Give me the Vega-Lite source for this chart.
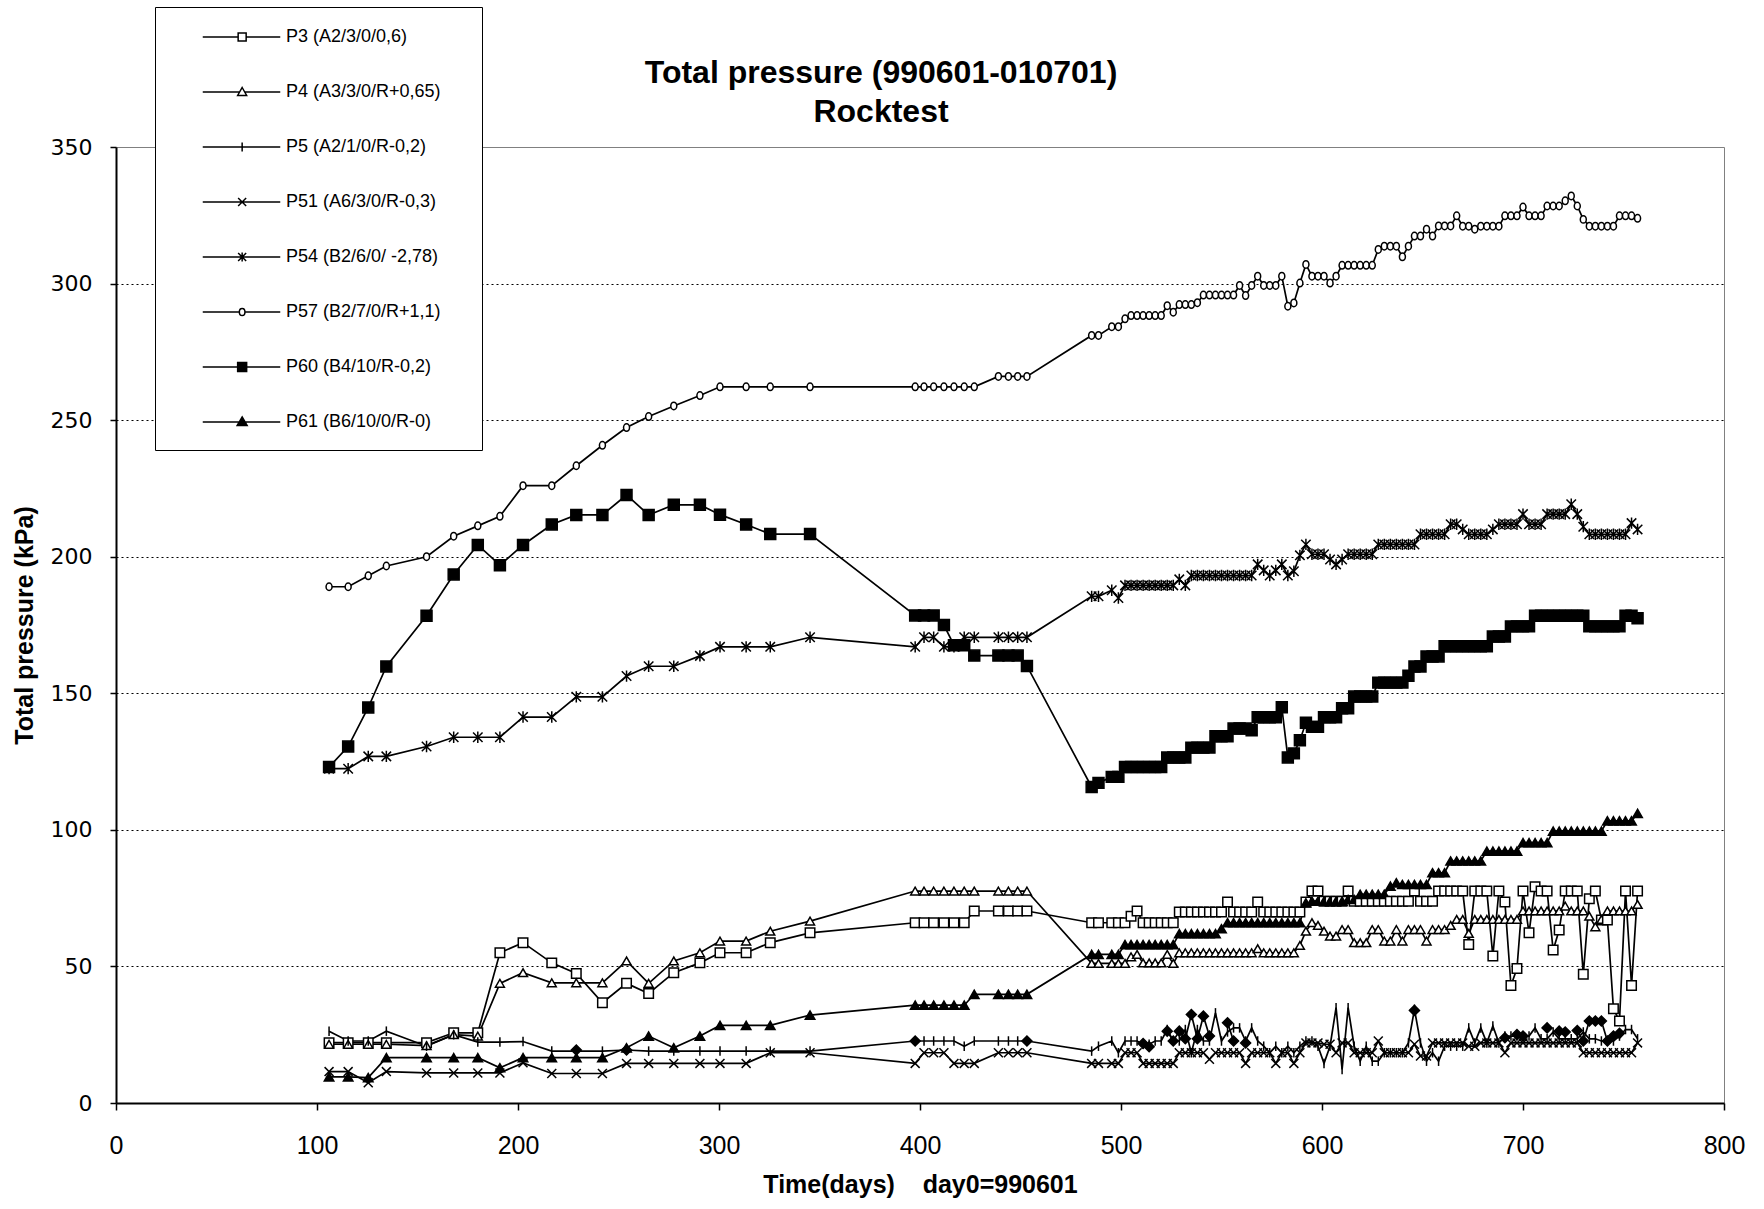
{
  "$schema": "https://vega.github.io/schema/vega-lite/v6.json",
  "width": 1608,
  "height": 956,
  "autosize": {"type": "none"},
  "padding": {"left": 116, "top": 147, "right": 40, "bottom": 106},
  "background": "white",
  "config": {"font": "Liberation Sans", "view": {"stroke": "#808080", "strokeWidth": 1}},
  "title": {
    "text": ["Total pressure (990601-010701)", "Rocktest"],
    "font": "Liberation Sans", "fontSize": 32, "fontWeight": "bold", "color": "black",
    "anchor": "middle", "frame": "group", "dx": -39, "lineHeight": 39,
    "baseline": "bottom", "offset": -154
  },
  "data": {"values": [
    {"d":106,"P3":22.1,"P4":21.5,"P5":26.3,"P51":11.5,"P54":122.4,"P57":189,"P60":123,"P61":9.6},
    {"d":115.5,"P3":22.1,"P4":21.5,"P5":22.7,"P51":11.5,"P54":122.4,"P57":189,"P60":130.5,"P61":9.6},
    {"d":125.5,"P3":22.1,"P4":21.5,"P5":22.7,"P51":7.4,"P54":126.9,"P57":193,"P60":144.8,"P61":9.3},
    {"d":134.5,"P3":22.1,"P4":21.5,"P5":26.3,"P51":11.5,"P54":126.9,"P57":196.6,"P60":159.8,"P61":16.6},
    {"d":154.5,"P3":22.1,"P4":21,"P5":20.8,"P51":11,"P54":130.5,"P57":200,"P60":178.4,"P61":16.6},
    {"d":168,"P3":25.7,"P4":25,"P5":25,"P51":11,"P54":133.9,"P57":207.5,"P60":193.5,"P61":16.6},
    {"d":180,"P3":25.7,"P4":24.5,"P5":22.3,"P51":11,"P54":133.9,"P57":211.3,"P60":204.3,"P61":16.6},
    {"d":191,"P3":55,"P4":43.8,"P5":22.3,"P51":11,"P54":133.9,"P57":214.8,"P60":196.9,"P61":12.9},
    {"d":202.5,"P3":58.7,"P4":47.7,"P5":22.5,"P51":14.7,"P54":141.3,"P57":226,"P60":204.3,"P61":16.6},
    {"d":216.8,"P3":51.3,"P4":44,"P5":19,"P51":10.8,"P54":141.3,"P57":226,"P60":211.8,"P61":16.6},
    {"d":229,"P3":47.4,"P4":44,"P5":19,"P51":10.8,"P54":148.7,"P57":233.3,"P60":215.3,"P61":16.6,"P5d":19.4},
    {"d":242,"P3":36.7,"P4":44,"P5":19,"P51":10.8,"P54":148.7,"P57":240.8,"P60":215.3,"P61":16.6},
    {"d":254,"P3":43.8,"P4":52,"P5":19.4,"P51":14.5,"P54":156.3,"P57":247.3,"P60":222.6,"P61":20.2,"P5d":19.4},
    {"d":265,"P3":40.1,"P4":43.8,"P5":19,"P51":14.5,"P54":159.9,"P57":251.3,"P60":215.3,"P61":24.5},
    {"d":277.5,"P3":47.7,"P4":52,"P5":19,"P51":14.5,"P54":159.9,"P57":255.2,"P60":219,"P61":20.2},
    {"d":290.5,"P3":51.3,"P4":55,"P5":19,"P51":14.5,"P54":163.7,"P57":259,"P60":219,"P61":24.5},
    {"d":300.5,"P3":55,"P4":59.3,"P5":19,"P51":14.5,"P54":167,"P57":262.2,"P60":215.4,"P61":28.4},
    {"d":313.5,"P3":55,"P4":59.3,"P5":19,"P51":14.5,"P54":167,"P57":262.2,"P60":211.8,"P61":28.4},
    {"d":325.5,"P3":58.7,"P4":62.9,"P5":19,"P51":18.4,"P54":167,"P57":262.2,"P60":208.3,"P61":28.4},
    {"d":345.3,"P3":62.3,"P4":66.6,"P5":19,"P51":18.4,"P54":170.5,"P57":262.2,"P60":208.3,"P61":32.2},
    {"d":397.6,"P3":66,"P4":77.6,"P5":22.7,"P51":14.5,"P54":167,"P57":262.2,"P60":178.5,"P61":35.8,"P5d":22.7},
    {"d":402,"P3":66,"P4":77.6,"P5":22.7,"P51":18.4,"P54":170.5,"P57":262.2,"P60":178.5,"P61":35.8},
    {"d":406.8,"P3":66,"P4":77.6,"P5":22.7,"P51":18.4,"P54":170.5,"P57":262.2,"P60":178.5,"P61":35.8},
    {"d":411.9,"P3":66,"P4":77.6,"P5":22.7,"P51":18.4,"P54":167,"P57":262.2,"P60":175,"P61":35.8},
    {"d":416.9,"P3":66,"P4":77.6,"P5":22.7,"P51":14.5,"P54":167,"P57":262.2,"P60":167.6,"P61":35.8},
    {"d":422,"P3":66,"P4":77.6,"P5":20.8,"P51":14.5,"P54":170.5,"P57":262.2,"P60":167.6,"P61":35.8},
    {"d":427,"P3":70.3,"P4":77.6,"P5":22.7,"P51":14.5,"P54":170.5,"P57":262.2,"P60":163.8,"P61":39.8},
    {"d":439,"P3":70.3,"P4":77.6,"P5":22.7,"P51":18.4,"P54":170.5,"P57":266,"P60":163.8,"P61":39.8},
    {"d":444,"P3":70.3,"P4":77.6,"P5":22.7,"P51":18.4,"P54":170.5,"P57":266,"P60":163.8,"P61":39.8},
    {"d":448.6,"P3":70.3,"P4":77.6,"P5":22.7,"P51":18.4,"P54":170.5,"P57":266,"P60":163.8,"P61":39.8},
    {"d":453.2,"P3":70.3,"P4":77.6,"P5":22.7,"P51":18.4,"P54":170.5,"P57":266,"P60":160,"P61":39.8,"P5d":22.7},
    {"d":485.4,"P3":66,"P4":51.1,"P5":19,"P51":14.5,"P54":185.5,"P57":281,"P60":115.7,"P61":54.4},
    {"d":488.8,"P3":66,"P4":51.1,"P5":20.8,"P51":14.5,"P54":185.5,"P57":281,"P60":117.2,"P61":54.4},
    {"d":495.4,"P3":66,"P4":51.1,"P5":22.7,"P51":14.5,"P54":187.7,"P57":284.2,"P60":119.4,"P61":54.4},
    {"d":498.7,"P3":66,"P4":51.1,"P5":18.4,"P51":14.5,"P54":184.9,"P57":284.2,"P60":119.4,"P61":54.4},
    {"d":502,"P3":66,"P4":51.1,"P5":22.7,"P51":18.4,"P54":189.5,"P57":287.1,"P60":123,"P61":58},
    {"d":505,"P3":68.4,"P4":53.5,"P5":22.7,"P51":18.4,"P54":189.5,"P57":288.3,"P60":123,"P61":58},
    {"d":508,"P3":70.3,"P4":54.4,"P5":22.7,"P51":18.4,"P54":189.5,"P57":288.3,"P60":123,"P61":58},
    {"d":511,"P3":66,"P4":51.3,"P5":21.5,"P51":14.5,"P54":189.5,"P57":288.3,"P60":123,"P61":58,"P5d":21.8},
    {"d":514,"P3":66,"P4":51.3,"P5":21.5,"P51":14.5,"P54":189.5,"P57":288.3,"P60":123,"P61":58,"P5d":20.6},
    {"d":517,"P3":66,"P4":51.3,"P5":22.7,"P51":14.5,"P54":189.5,"P57":288.3,"P60":123,"P61":58},
    {"d":520,"P3":66,"P4":51.3,"P5":22.7,"P51":14.5,"P54":189.5,"P57":288.3,"P60":123,"P61":58},
    {"d":523,"P3":66,"P4":54.4,"P5":26.9,"P51":14.5,"P54":189.5,"P57":291.9,"P60":126.5,"P61":58,"P5d":26.3},
    {"d":526,"P3":66,"P4":51.1,"P5":22.7,"P51":14.5,"P54":189.5,"P57":289.5,"P60":126.5,"P61":58,"P5d":22.7},
    {"d":529,"P3":69.9,"P4":55,"P5":22.7,"P51":18.4,"P54":191.7,"P57":292.3,"P60":126.5,"P61":62,"P5d":26.3},
    {"d":532,"P3":69.9,"P4":55,"P5":26.9,"P51":18.4,"P54":189.5,"P57":292.3,"P60":126.5,"P61":62,"P5d":23.5},
    {"d":535,"P3":69.9,"P4":55,"P5":18.4,"P51":18.4,"P54":193.1,"P57":292.3,"P60":130.1,"P61":62,"P5d":32.4},
    {"d":538,"P3":69.9,"P4":55,"P5":26.9,"P51":18.4,"P54":193.1,"P57":293,"P60":130.1,"P61":62,"P5d":23.5},
    {"d":541,"P3":69.9,"P4":55,"P5":22.7,"P51":18.4,"P54":193.1,"P57":295.8,"P60":130.1,"P61":62,"P5d":31.8},
    {"d":544,"P3":69.9,"P4":55,"P5":22.7,"P51":16,"P54":193.1,"P57":295.8,"P60":130.1,"P61":62,"P5d":24.5},
    {"d":547,"P3":69.9,"P4":55,"P5":33,"P51":18.4,"P54":193.1,"P57":295.8,"P60":134.3,"P61":62},
    {"d":550,"P3":69.9,"P4":55,"P5":22.7,"P51":18.4,"P54":193.1,"P57":295.8,"P60":134.3,"P61":63.8},
    {"d":553,"P3":73.6,"P4":55,"P5":26,"P51":18.4,"P54":193.1,"P57":295.8,"P60":134.3,"P61":66,"P5d":29.4},
    {"d":556,"P3":69.9,"P4":55,"P5":27.5,"P51":18.4,"P54":193.1,"P57":295.8,"P60":137.1,"P61":66,"P5d":22.7},
    {"d":559,"P3":69.9,"P4":55,"P5":27.5,"P51":18.4,"P54":193.1,"P57":299.3,"P60":137.1,"P61":66},
    {"d":562,"P3":69.9,"P4":55,"P5":22.7,"P51":14.5,"P54":193.1,"P57":295.6,"P60":137.1,"P61":66,"P5d":22},
    {"d":565,"P3":69.9,"P4":55,"P5":27.5,"P51":18.4,"P54":193.1,"P57":299.3,"P60":136.5,"P61":66},
    {"d":568,"P3":73.6,"P4":56.5,"P5":22.7,"P51":18.4,"P54":197.2,"P57":302.7,"P60":141.2,"P61":66},
    {"d":571,"P3":69.9,"P4":55,"P5":20.8,"P51":18.4,"P54":195,"P57":299.3,"P60":141.2,"P61":66},
    {"d":574,"P3":69.9,"P4":55,"P5":18.4,"P51":18.4,"P54":193.1,"P57":299.3,"P60":141.2,"P61":66},
    {"d":577,"P3":69.9,"P4":55,"P5":20.8,"P51":14.5,"P54":195,"P57":299.3,"P60":141.2,"P61":66},
    {"d":580,"P3":69.9,"P4":55,"P5":18.4,"P51":18.4,"P54":197.2,"P57":302.7,"P60":144.9,"P61":66},
    {"d":583,"P3":69.9,"P4":55,"P5":20.8,"P51":18.4,"P54":193.1,"P57":291.7,"P60":126.5,"P61":66},
    {"d":586,"P3":69.9,"P4":55,"P5":18.4,"P51":14.5,"P54":194.7,"P57":292.9,"P60":128,"P61":66},
    {"d":589,"P3":69.9,"P4":57.7,"P5":20.8,"P51":18.4,"P54":200.5,"P57":300.2,"P60":132.8,"P61":66},
    {"d":592,"P3":73.6,"P4":62.9,"P5":22.7,"P51":22,"P54":204.5,"P57":307,"P60":139.2,"P61":73.3},
    {"d":595,"P3":77.6,"P4":66,"P5":22.7,"P51":22,"P54":200.9,"P57":302.7,"P60":137.7,"P61":73.9},
    {"d":598,"P3":77.6,"P4":65,"P5":20.8,"P51":22,"P54":200.9,"P57":302.7,"P60":137.7,"P61":73.9},
    {"d":601,"P3":73.9,"P4":62.9,"P5":14.5,"P51":21.5,"P54":200.9,"P57":302.7,"P60":141.2,"P61":73.9},
    {"d":604,"P3":73.9,"P4":61.1,"P5":20.8,"P51":21.5,"P54":199,"P57":300.2,"P60":141.2,"P61":73.9},
    {"d":607,"P3":73.9,"P4":61.1,"P5":34.9,"P51":18.4,"P54":197.2,"P57":302.7,"P60":141.2,"P61":73.9},
    {"d":610,"P3":73.9,"P4":63.5,"P5":12.3,"P51":22,"P54":199,"P57":306.7,"P60":144.5,"P61":73.9},
    {"d":613,"P3":77.6,"P4":63.5,"P5":34.9,"P51":22,"P54":200.9,"P57":306.7,"P60":144.5,"P61":74.5},
    {"d":616,"P3":73.9,"P4":58.7,"P5":20.8,"P51":18.4,"P54":200.9,"P57":306.7,"P60":148.8,"P61":74.5},
    {"d":619,"P3":73.9,"P4":58.7,"P5":15.3,"P51":18.4,"P54":200.9,"P57":306.7,"P60":148.8,"P61":76.4},
    {"d":622,"P3":73.9,"P4":58.7,"P5":20.8,"P51":18.4,"P54":200.9,"P57":306.7,"P60":148.8,"P61":76.4},
    {"d":625,"P3":73.9,"P4":63.5,"P5":15.3,"P51":18.4,"P54":200.9,"P57":306.7,"P60":148.8,"P61":76.4},
    {"d":628,"P3":73.9,"P4":63.5,"P5":15.3,"P51":22.7,"P54":204.5,"P57":312.5,"P60":153.9,"P61":76.4},
    {"d":631,"P3":73.9,"P4":59.3,"P5":18.4,"P51":18.4,"P54":204.5,"P57":313.7,"P60":153.9,"P61":76.4},
    {"d":634,"P3":73.9,"P4":59.3,"P5":18.4,"P51":18.4,"P54":204.5,"P57":313.7,"P60":153.9,"P61":79.4},
    {"d":637,"P3":73.9,"P4":63.5,"P5":18.4,"P51":18.4,"P54":204.5,"P57":313.7,"P60":153.9,"P61":80.6},
    {"d":640,"P3":73.9,"P4":59.3,"P5":18.4,"P51":18.4,"P54":204.5,"P57":309.8,"P60":153.9,"P61":80},
    {"d":643,"P3":73.9,"P4":63.5,"P5":22,"P51":18.4,"P54":204.5,"P57":313.7,"P60":156.4,"P61":80},
    {"d":646,"P3":77.6,"P4":63.5,"P5":34.3,"P51":21.5,"P54":204.5,"P57":317.4,"P60":159.8,"P61":80,"P5d":33.9},
    {"d":649,"P3":73.9,"P4":63.5,"P5":22,"P51":17.2,"P54":208.2,"P57":317.4,"P60":159.8,"P61":80},
    {"d":652,"P3":73.9,"P4":59.3,"P5":15.3,"P51":17.2,"P54":208.2,"P57":319.9,"P60":163.5,"P61":80},
    {"d":655,"P3":73.9,"P4":63.5,"P5":18.4,"P51":22,"P54":208.2,"P57":317.4,"P60":163.5,"P61":84.3},
    {"d":658,"P3":77.6,"P4":63.5,"P5":15.3,"P51":22,"P54":208.2,"P57":321.1,"P60":163.5,"P61":84.3},
    {"d":661,"P3":77.6,"P4":63.5,"P5":20.8,"P51":22,"P54":208.2,"P57":321.1,"P60":167.2,"P61":84.3},
    {"d":664,"P3":77.6,"P4":65,"P5":20.8,"P51":22,"P54":211.9,"P57":321.1,"P60":167.2,"P61":88.6},
    {"d":667,"P3":77.6,"P4":67.2,"P5":20.8,"P51":22,"P54":211.9,"P57":324.8,"P60":167.2,"P61":88.6},
    {"d":670,"P3":77.6,"P4":67.2,"P5":20.8,"P51":22,"P54":210,"P57":321,"P60":167.2,"P61":88.6},
    {"d":673,"P3":58,"P4":62.1,"P5":27.5,"P51":20.8,"P54":208.2,"P57":321,"P60":167.2,"P61":88.6},
    {"d":676,"P3":77.6,"P4":67.2,"P5":22,"P51":20.8,"P54":208.2,"P57":319.9,"P60":167.2,"P61":88.6},
    {"d":679,"P3":77.6,"P4":67.2,"P5":27.5,"P51":22,"P54":208.2,"P57":321,"P60":167.2,"P61":88.6},
    {"d":682,"P3":77.6,"P4":67.2,"P5":22,"P51":22,"P54":208.2,"P57":321,"P60":167.2,"P61":92.2},
    {"d":685,"P3":53.8,"P4":67.2,"P5":28.2,"P51":22,"P54":210,"P57":321,"P60":170.8,"P61":92.2},
    {"d":688,"P3":77.6,"P4":67.2,"P5":22,"P51":22,"P54":211.9,"P57":321,"P60":170.8,"P61":92.2},
    {"d":691,"P3":73.6,"P4":67.2,"P5":24.5,"P51":18.4,"P54":211.9,"P57":324.8,"P60":170.8,"P61":92.2,"P5d":23.9},
    {"d":694,"P3":43,"P4":67.2,"P5":24.5,"P51":22,"P54":211.9,"P57":324.8,"P60":174.5,"P61":92.2},
    {"d":697,"P3":49.2,"P4":67.2,"P5":24.5,"P51":22,"P54":211.9,"P57":324.8,"P60":174.5,"P61":92.2,"P5d":25.1},
    {"d":700,"P3":77.6,"P4":70.3,"P5":24.5,"P51":22,"P54":215.6,"P57":328,"P60":174.5,"P61":95.3,"P5d":24.5},
    {"d":703,"P3":62.3,"P4":70.3,"P5":24.5,"P51":22,"P54":211.9,"P57":324.8,"P60":174.5,"P61":95.3},
    {"d":706,"P3":79.2,"P4":70.3,"P5":27.5,"P51":22,"P54":211.9,"P57":324.8,"P60":178.4,"P61":95.3},
    {"d":709,"P3":77.6,"P4":70.3,"P5":23.5,"P51":22,"P54":211.9,"P57":324.8,"P60":178.4,"P61":95.3},
    {"d":712,"P3":77.6,"P4":70.3,"P5":23.5,"P51":22,"P54":215.6,"P57":328.4,"P60":178.4,"P61":95.3,"P5d":27.5},
    {"d":715,"P3":56,"P4":70.3,"P5":26,"P51":22,"P54":215.6,"P57":328.4,"P60":178.4,"P61":99.5},
    {"d":718,"P3":63.3,"P4":70.3,"P5":23.5,"P51":22,"P54":215.6,"P57":328.4,"P60":178.4,"P61":99.5,"P5d":26.3},
    {"d":721,"P3":77.6,"P4":72.1,"P5":23.5,"P51":22,"P54":215.6,"P57":330.3,"P60":178.4,"P61":99.5,"P5d":26},
    {"d":724,"P3":77.6,"P4":70.3,"P5":23.5,"P51":22,"P54":219.2,"P57":332.1,"P60":178.4,"P61":99.5},
    {"d":727,"P3":77.6,"P4":70.3,"P5":23.5,"P51":22,"P54":215.6,"P57":328.4,"P60":178.4,"P61":99.5,"P5d":26.5},
    {"d":730,"P3":47.1,"P4":70.3,"P5":26,"P51":18.4,"P54":211,"P57":323.5,"P60":178.4,"P61":99.5,"P5d":22.7},
    {"d":733,"P3":74.8,"P4":68.4,"P5":23.5,"P51":18.4,"P54":208.2,"P57":321,"P60":174.5,"P61":99.5,"P5d":30},
    {"d":736,"P3":77.6,"P4":64.5,"P5":23.5,"P51":18.4,"P54":208.2,"P57":321,"P60":174.5,"P61":99.5,"P5d":30},
    {"d":739,"P3":67,"P4":67.2,"P5":22.7,"P51":18.4,"P54":208.2,"P57":321,"P60":174.5,"P61":99.5,"P5d":30},
    {"d":742,"P3":67,"P4":70.3,"P5":22.7,"P51":18.4,"P54":208.2,"P57":321,"P60":174.5,"P61":103.3,"P5d":22.7},
    {"d":745,"P3":34.5,"P4":70.3,"P5":22.7,"P51":18.4,"P54":208.2,"P57":321,"P60":174.5,"P61":103.3,"P5d":24.5},
    {"d":748,"P3":30,"P4":70.3,"P5":24.5,"P51":18.4,"P54":208.2,"P57":324.8,"P60":174.5,"P61":103.3,"P5d":25.5},
    {"d":751,"P3":77.6,"P4":70.3,"P5":26.9,"P51":18.4,"P54":208.2,"P57":324.8,"P60":178.4,"P61":103.3},
    {"d":754,"P3":43,"P4":70.3,"P5":26.9,"P51":18.4,"P54":212.3,"P57":324.8,"P60":178.4,"P61":103.3},
    {"d":757,"P3":77.6,"P4":72.7,"P5":23.5,"P51":22,"P54":210,"P57":323.9,"P60":177.5,"P61":106}
  ]},
  "transform": [{"fold": ["P3","P4","P5","P51","P54","P57","P60","P61","P5d"], "as": ["series","v"]}],
  "encoding": {
    "x": {
      "field": "d", "type": "quantitative",
      "scale": {"domain": [0, 800]},
      "axis": {
        "values": [0,100,200,300,400,500,600,700,800], "grid": false,
        "domainColor": "black", "domainWidth": 2, "tickColor": "black", "tickWidth": 1.5, "tickSize": 7,
        "labelFont": "Liberation Sans", "labelFontSize": 25, "labelColor": "black", "labelPadding": 23, "labelFlush": false,
        "title": "Time(days)\u00a0\u00a0\u00a0 day0=990601", "titleFont": "Liberation Sans", "titleFontSize": 25,
        "titleFontWeight": "bold", "titleColor": "black", "titlePadding": 14
      }
    },
    "y": {
      "field": "v", "type": "quantitative",
      "scale": {"domain": [0, 350]},
      "axis": {
        "values": [0,50,100,150,200,250,300,350], "grid": true,
        "gridColor": "black", "gridDash": [2, 3], "gridWidth": 1,
        "gridOpacity": {"condition": {"test": "datum.value >= 350 || datum.value <= 0", "value": 0}, "value": 1},
        "domainColor": "black", "domainWidth": 2, "tickColor": "black", "tickWidth": 1.5, "tickSize": 6,
        "labelFont": "DejaVu Sans", "labelFontSize": 22, "labelColor": "black", "labelPadding": 18,
        "title": "Total pressure (kPa)", "titleFont": "Liberation Sans", "titleFontSize": 25,
        "titleFontWeight": "bold", "titleColor": "black", "titlePadding": 13
      }
    }
  },
  "layer": [
    {
      "transform": [{"filter": "datum.series !== 'P5d'"}],
      "mark": {"type": "line", "color": "black", "strokeWidth": 1.7},
      "encoding": {"detail": {"field": "series", "type": "nominal"}}
    },
    {
      "transform": [{"filter": "datum.series === 'P5d'"}],
      "mark": {"type": "line", "color": "black", "strokeWidth": 1.7, "invalid": "break-paths-filter-domains"},
      "encoding": {}
    },
    {
      "mark": {"type": "point", "filled": true, "stroke": "black", "strokeWidth": 1.5, "opacity": 1},
      "encoding": {
        "shape": {
          "field": "series", "type": "nominal", "legend": null,
          "scale": {
            "domain": ["P3","P4","P5","P51","P54","P57","P60","P61","P5d"],
            "range": ["square","triangle-up","M0,-1V1","M-1,-1L1,1M-1,1L1,-1","M-1,-1L1,1M-1,1L1,-1M0,-1.2V1.2","M-0.8,0A0.8,1,0,1,0,0.8,0A0.8,1,0,1,0,-0.8,0","square","triangle-up","diamond"]
          }
        },
        "fill": {
          "field": "series", "type": "nominal", "legend": null,
          "scale": {
            "domain": ["P3","P4","P5","P51","P54","P57","P60","P61","P5d"],
            "range": ["white","white","black","black","black","white","black","black","black"]
          }
        },
        "size": {
          "field": "series", "type": "nominal", "legend": null,
          "scale": {
            "type": "ordinal",
            "domain": ["P3","P4","P5","P51","P54","P57","P60","P61","P5d"],
            "range": [90, 80, 90, 80, 90, 56, 120, 90, 100]
          }
        }
      }
    },
    {
      "transform": [{"filter": "datum.series !== 'P5d'"}],
      "mark": {"type": "point", "filled": false, "color": "black", "opacity": 0},
      "encoding": {
        "shape": {
          "field": "series", "type": "nominal",
          "scale": {
            "domain": ["P3","P4","P5","P51","P54","P57","P60","P61"],
            "range": [
              "M-1.07,0M1.775,0H5.315M6.115,0H9.525M5.315,-0.4H6.115V0.4H5.315ZM27.45,0",
              "M-1.07,0M1.775,0H5.462M5.968,0H9.525M5.715,-0.45L6.165,0.35H5.265ZM27.45,0",
              "M-1.07,0M1.775,0H9.525M5.715,-0.45V0.45M27.45,0",
              "M-1.07,0M1.775,0H9.525M5.315,-0.4L6.115,0.4M5.315,0.4L6.115,-0.4M27.45,0",
              "M-1.07,0M1.775,0H9.525M5.315,-0.4L6.115,0.4M5.315,0.4L6.115,-0.4M5.715,-0.45V0.45M27.45,0",
              "M-1.07,0M1.775,0H5.435M5.995,0H9.525M5.435,0A0.28,0.36,0,1,0,5.995,0A0.28,0.36,0,1,0,5.435,0M27.45,0",
              "M-1.07,0M1.775,0H9.525M5.265,-0.45H6.165V0.45H5.265ZM5.265,-0.3H6.165M5.265,-0.15H6.165M5.265,0H6.165M5.265,0.15H6.165M5.265,0.3H6.165M27.45,0",
              "M-1.07,0M1.775,0H9.525M5.715,-0.5L6.215,0.35H5.215ZM5.627,-0.35H5.803M5.539,-0.2H5.891M5.45,-0.05H5.98M5.362,0.1H6.068M5.274,0.25H6.156M27.45,0"
            ]
          },
          "legend": {
            "orient": "none", "legendX": 39, "legendY": -140, "title": null,
            "direction": "vertical", "columns": 1,
            "symbolSize": 400, "symbolStrokeWidth": 1.5, "symbolStrokeColor": "black", "symbolOpacity": 1,
            "labelFont": "Liberation Sans", "labelFontSize": 18, "labelColor": "black", "labelOffset": 90, "labelLimit": 400,
            "rowPadding": 35, "padding": 19, "strokeColor": "black", "fillColor": "white",
            "labelExpr": "{'P3':'P3 (A2/3/0/0,6)','P4':'P4 (A3/3/0/R+0,65)','P5':'P5 (A2/1/0/R-0,2)','P51':'P51 (A6/3/0/R-0,3)','P54':'P54 (B2/6/0/ -2,78)','P57':'P57 (B2/7/0/R+1,1)','P60':'P60 (B4/10/R-0,2)','P61':'P61 (B6/10/0/R-0)'}[datum.label]",
            "encode": {
              "symbols": {"update": {"opacity": {"value": 1}, "strokeOpacity": {"value": 1}, "stroke": {"value": "black"}, "strokeWidth": {"value": 1.5}, "fill": {"value": "transparent"}}},
              "legend": {"update": {"strokeWidth": {"value": 1.5}}}
            }
          }
        }
      }
    }
  ],
  "resolve": {"scale": {"shape": "independent"}}
}
